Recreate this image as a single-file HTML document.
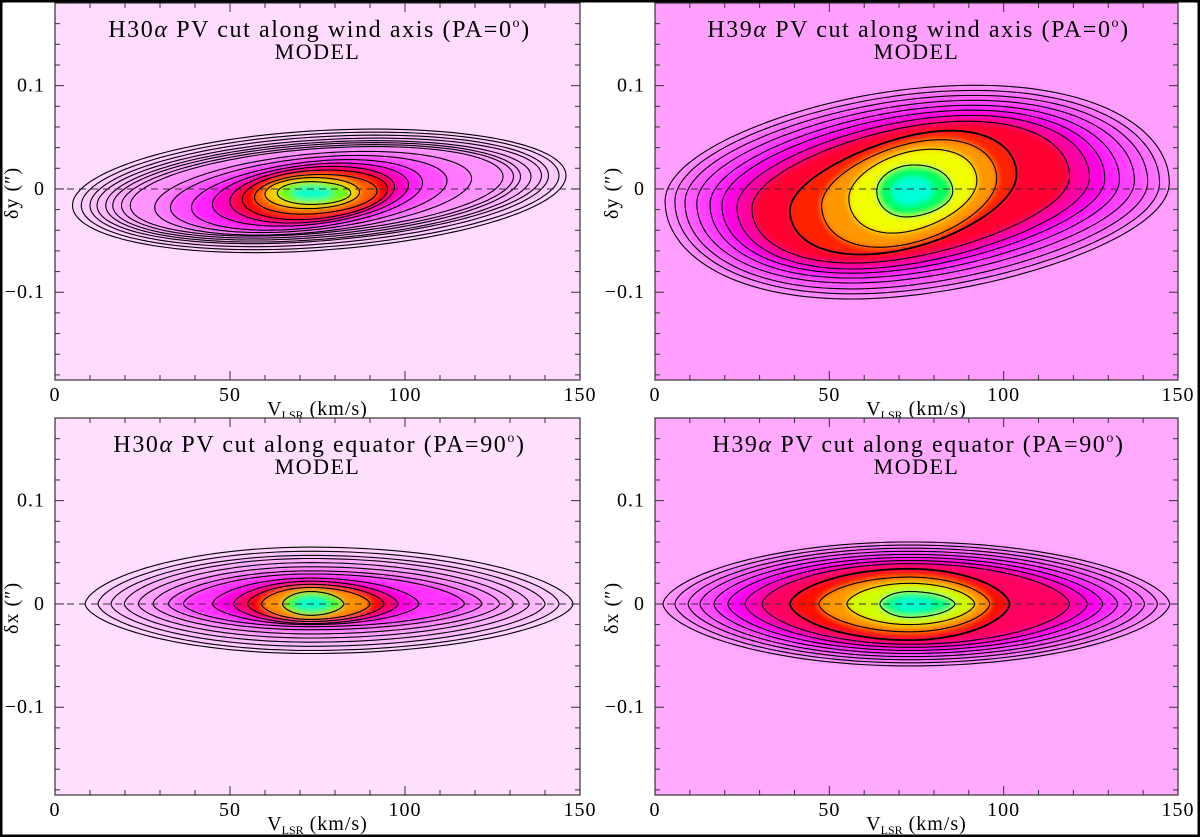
<!DOCTYPE html>
<html><head><meta charset="utf-8"><style>
html,body{margin:0;padding:0;background:#fff}
svg{display:block}
text{font-family:"Liberation Serif",serif;fill:#000}
</style></head><body>
<svg id="fig" width="1200" height="837" viewBox="0 0 1200 837" xmlns="http://www.w3.org/2000/svg">
<defs>
<filter id="blur" x="-5%" y="-5%" width="110%" height="110%"><feGaussianBlur stdDeviation="3"/></filter>
</defs>
</svg>
<script>
// contour tuples: [vLeft, vRight, yAtLeftTip, yAtRightTip, halfTop, halfBottom]
const tlContours = [
 [5,146,-0.016,0.013,0.058,0.058],[7.5,144,-0.016,0.013,0.055,0.055],[10,141,-0.016,0.013,0.052,0.052],
 [12,139,-0.016,0.013,0.049,0.049],[14.5,136,-0.016,0.012,0.047,0.047],[16.5,133,-0.016,0.012,0.045,0.045],
 [19,131,-0.016,0.012,0.043,0.043],[21.5,128,-0.016,0.012,0.041,0.041],[28.5,119,-0.018,0.010,0.038,0.038],
 [33,112,-0.018,0.008,0.035,0.035],[39,105,-0.018,0.006,0.032,0.032],[45,101,-0.015,0.004,0.029,0.029],
 [50,97,-0.012,0.002,0.026,0.027],[53.5,95,-0.010,0,0.023,0.024],[57,92,-0.008,-0.002,0.019,0.019],
 [60,87,-0.005,-0.003,0.015,0.015],[63.5,84.5,-0.004,-0.004,0.011,0.011]];
const tlFills = ['#ffd4ff','#ffcaff','#ffc2ff','#ffbaff','#ffb2ff','#ffaaff','#ffa0ff','#ff94ff','#ff78ff','#ff50ff','#ff20ff','#ff00c0','#ff0040','#ff0000','#ff6000','#ffd000','#60ff20'];
const tlHeavy = [];
const trContours = [
 [2.9,147.5,-0.012,0.006,0.100,0.100],[5.7,144.7,-0.012,0.006,0.095,0.095],[8.6,141.3,-0.013,0.007,0.090,0.090],
 [12,137.5,-0.014,0.008,0.085,0.084],[15.8,133.2,-0.015,0.009,0.080,0.079],[19.2,129,-0.016,0.010,0.075,0.074],
 [23.5,124.6,-0.018,0.011,0.070,0.069],[27.8,118.9,-0.019,0.012,0.064,0.063],
 [38.7,103.7,-0.021,0.014,0.054,0.055],[47.8,98,-0.016,0.010,0.047,0.050],[55.6,92.3,-0.009,0.008,0.037,0.040],[63.6,85.4,-0.002,-0.002,0.025,0.025]];
const trFills = ['#ff88ff','#ff70ff','#ff58ff','#ff40ff','#ff20ff','#ff00e0','#ff00a0','#ff0030','#ff2000','#ff9800','#f0ff00','#00ff60'];
const trHeavy = [8];
const blContours = [
 [8.6,148,0,0,0.055,0.048],[12.3,144,0,0,0.051,0.045],[16,140,0,0,0.047,0.041],[19.8,135.5,0,0,0.044,0.037],
 [23.8,131,0,0,0.040,0.033],[28,127,0,0,0.036,0.029],[32.4,122,0,0,0.032,0.025],[36.7,117,0,0,0.029,0.022],
 [45,104,0,0,0.025,0.020],[51,98,0,0,0.022,0.019],[55,94,0,0,0.019,0.017],[59,90,0,0,0.016,0.015],[65,82.5,0,0,0.012,0.011]];
const blFills = ['#ffd4ff','#ffc8ff','#ffbcff','#ffb0ff','#ffa0ff','#ff88ff','#ff60ff','#ff30ff','#ff00e0','#ff0060','#ff0000','#ff9000','#40ff40'];
const blHeavy = [];
const brContours = [
 [2.3,147.6,0,0,0.060,0.060],[5.7,144.1,0,0,0.057,0.057],[9.5,140.4,0,0,0.054,0.054],[12.9,136.7,0,0,0.051,0.051],
 [16.9,132.7,0,0,0.048,0.048],[20.9,128.4,0,0,0.045,0.045],[25.8,124,0,0,0.042,0.042],[30.7,118.9,0,0,0.039,0.039],
 [38.7,101.7,0,0,0.034,0.035],[47,96,0,0,0.026,0.027],[55,91.7,0,0,0.020,0.020],[64.5,86,0,0,0.012,0.013]];
const brFills = ['#ff90ff','#ff78ff','#ff60ff','#ff48ff','#ff28ff','#ff00f0','#ff00b0','#ff0060','#ff1000','#ff9800','#d0ff00','#00ff80'];
const brHeavy = [8];
const xTicks = [0,50,100,150];
const yTicks = [0.1,0,-0.1];
const yTickLabels = ['0.1','0','\u22120.1'];

const panels = [
 {id:'h30-wind',L:55,R:580,T:3,B:380,line:'H30',cut:'wind axis (PA=0',yl:'\u03b4y',bg:'#ffdcff',C:tlContours,F:tlFills,H:tlHeavy,shear:0,b:1,core:'#00ffcc'},
 {id:'h39-wind',L:655,R:1178,T:3,B:380,line:'H39',cut:'wind axis (PA=0',yl:'\u03b4y',bg:'#ffa0ff',C:trContours,F:trFills,H:trHeavy,shear:0.00025,b:1,core:'#00ffd8'},
 {id:'h30-equator',L:55,R:580,T:418,B:795,line:'H30',cut:'equator (PA=90',yl:'\u03b4x',bg:'#ffe0ff',C:blContours,F:blFills,H:blHeavy,shear:0,b:1.2,core:'#00ffcc'},
 {id:'h39-equator',L:655,R:1178,T:418,B:795,line:'H39',cut:'equator (PA=90',yl:'\u03b4x',bg:'#ffaaff',C:brContours,F:brFills,H:brHeavy,shear:0,b:1.2,core:'#00ffd0'}
];
const NS='http://www.w3.org/2000/svg';
const svg=document.getElementById('fig');
function mk(tag,attrs,parent){const e=document.createElementNS(NS,tag);for(const k in attrs)e.setAttribute(k,attrs[k]);(parent||svg).appendChild(e);return e;}
const VC=73;
panels.forEach((p,pi)=>{
 const y0=p.T+0.18*1033;
 const X=v=>p.L+v/150*(p.R-p.L);
 const Y=d=>y0-d*1033;
 const g=mk('g',{});
 
 
 const cp=mk('clipPath',{id:'clip'+pi},g);
 mk('rect',{x:p.L,y:p.T,width:p.R-p.L,height:p.B-p.T},cp);
 const bg=mk('rect',{x:p.L,y:p.T,width:p.R-p.L,height:p.B-p.T,fill:p.bg},g);
 
 
 function path(c,scale){
  const [vL,vR,yL,yR,hT,hB]=c;let d='';
  for(let i=0;i<=160;i++){
   const th=2*Math.PI*i/160,cs=Math.cos(th),sn=Math.sin(th);
   let v=cs>=0?VC+cs*(vR-VC)*scale:VC+cs*(VC-vL)*scale;
   const yl=yL+(yR-yL)*(v-vL)/(vR-vL);
   const ss=Math.sign(sn)*Math.pow(Math.abs(sn),p.b);
   const y=yl+ss*(sn>=0?hT:hB)*scale+p.shear*(v-VC)*Math.abs(sn);
   d+=(i?'L':'M')+X(v).toFixed(1)+','+Y(y).toFixed(1);
  }
  return d+'Z';
 }
 const hm=mk('g',{'clip-path':'url(#clip'+pi+')'},g);
 
 
 const hb=mk('g',{filter:'url(#blur)'},hm);
 p.C.forEach((c,i)=>{
  const f=mk('path',{d:path(c,1),fill:p.F[i]},hb);
  
  
 });
 const core=mk('path',{d:path(p.C[p.C.length-1],0.55),fill:p.core},hb);
 
 
 const cg=mk('g',{'clip-path':'url(#clip'+pi+')'},g);
 
 
 p.C.forEach((c,i)=>{
  const s=mk('path',{d:path(c,1),fill:'none',stroke:'#000','stroke-width':p.H.includes(i)?1.8:1.1},cg);
  
  
 });
 const dl=mk('line',{x1:p.L,x2:p.R,y1:Y(0),y2:Y(0),stroke:'#333','stroke-width':1,'stroke-dasharray':'7,5'},g);
 
 
 const fr=mk('rect',{x:p.L,y:p.T,width:p.R-p.L,height:p.B-p.T,fill:'none',stroke:'#333','stroke-width':1.2},g);
 
 
 for(let v=0;v<=150;v+=10){
  const len=v%50===0?9:5;
  mk('line',{x1:X(v),x2:X(v),y1:p.B,y2:p.B-len,stroke:'#333'},g);
  mk('line',{x1:X(v),x2:X(v),y1:p.T,y2:p.T+len,stroke:'#333'},g);
 }
 for(let k=-9;k<=9;k++){
  const d=k*0.02,len=(k%5===0)?9:5;
  if(Y(d)<p.T||Y(d)>p.B)continue;
  mk('line',{x1:p.L,x2:p.L+len,y1:Y(d),y2:Y(d),stroke:'#333'},g);
  mk('line',{x1:p.R,x2:p.R-len,y1:Y(d),y2:Y(d),stroke:'#333'},g);
 }
 xTicks.forEach(v=>{
  const t=mk('text',{x:X(v),y:p.B+21,'font-size':20,'letter-spacing':1,'text-anchor':'middle'},g);t.textContent=v;
  
  
 });
 yTicks.forEach((d,i)=>{
  const t=mk('text',{x:p.L-10,y:Y(d)+6,'font-size':20,'letter-spacing':1,'text-anchor':'end'},g);t.textContent=yTickLabels[i];
  
  
 });
 const xt=mk('text',{x:(p.L+p.R)/2,y:p.B+35,'font-size':20,'text-anchor':'middle'},g);
 xt.innerHTML='V<tspan font-size="12" dy="4" letter-spacing="0">LSR</tspan><tspan dy="-4" letter-spacing="1"> (km/s)</tspan>';
 
 
 const yt=mk('text',{x:0,y:0,'font-size':20,'letter-spacing':1,'text-anchor':'middle',transform:`translate(${p.L-37},${Y(0)+4}) rotate(-90)`},g);
 yt.textContent=p.yl+'  (\u2033)';
 
 
 const tt=mk('text',{x:(p.L+p.R)/2+2,y:p.T+34,'font-size':24,'letter-spacing':1.6,'text-anchor':'middle'},g);
 tt.innerHTML=p.line+'<tspan font-style="italic">\u03b1</tspan> PV cut along '+p.cut+'<tspan font-size="14" dy="-10">o</tspan><tspan dy="10">)</tspan>';
 
 
 const mt=mk('text',{x:(p.L+p.R)/2,y:p.T+56,'font-size':22,'letter-spacing':1.5,'text-anchor':'middle'},g);
 mt.textContent='MODEL';
 
 
});
const bd=mk('rect',{x:1,y:1,width:1198,height:835,fill:'none',stroke:'#000','stroke-width':3});


</script>
</body></html>
